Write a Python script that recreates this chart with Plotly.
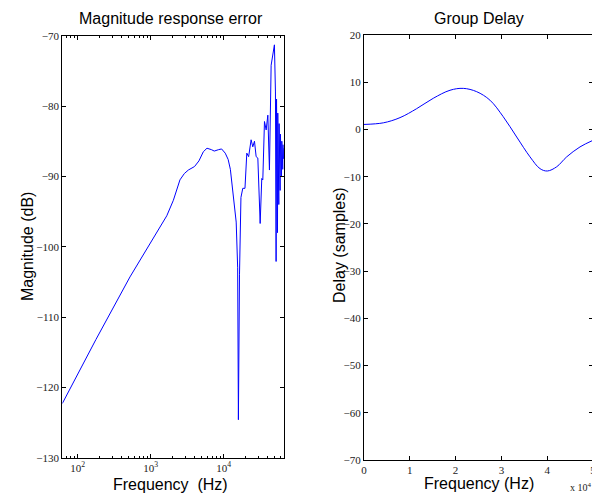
import numpy as np
import plotly.graph_objects as go

# page body has an 8px margin; size the figure to fill the rest of the 600x496 window
OFF = 8
W, H = 600 - OFF, 496 - OFF

# ---- Data: magnitude response error (left) ----
mag_log_freq = [1.79, 2.25, 2.716, 3.0, 3.127, 3.22, 3.31, 3.40, 3.46, 3.515, 3.6, 3.66,
                3.72, 3.77, 3.83, 3.87, 3.93, 3.97, 4.02, 4.06, 4.09, 4.13, 4.17, 4.19,
                4.20, 4.215, 4.235, 4.26, 4.29, 4.315, 4.34, 4.374, 4.397, 4.42, 4.443,
                4.466, 4.498, 4.52, 4.534, 4.557, 4.58, 4.603, 4.625, 4.648, 4.67, 4.685,
                4.693, 4.707, 4.716, 4.722, 4.727, 4.731, 4.735, 4.739, 4.744, 4.748,
                4.753, 4.757, 4.762, 4.766, 4.771, 4.775, 4.78, 4.785, 4.79, 4.794,
                4.799, 4.803, 4.808, 4.812, 4.817, 4.82]
mag_db = [-122.3, -113.2, -104.3, -99.3, -97.2, -95.6, -93.4, -90.5, -89.6, -89.1, -88.6, -87.8,
          -86.5, -86.0, -86.2, -86.4, -86.2, -86.1, -86.7, -87.6, -89.0, -92.4, -96.5, -103.0,
          -124.6, -104.0, -93.0, -91.7, -91.7, -86.7, -87.2, -84.8, -85.8, -85.0, -87.2,
          -87.4, -96.7, -90.3, -90.5, -82.2, -83.4, -81.3, -89.1, -74.2, -72.7, -72.3,
          -71.3, -78.0, -102.1, -79.0, -95.0, -80.0, -98.0, -81.0, -93.0, -82.0,
          -94.0, -82.5, -91.0, -83.0, -92.0, -84.0, -89.0, -84.0, -90.0, -85.0,
          -88.0, -85.0, -89.0, -85.5, -87.5, -86.0]
mag_freq = [10 ** v for v in mag_log_freq]

# ---- Data: group delay (right) ----
gd_freq = [0, 4215, 7860, 11500, 15130, 18780, 21680, 24600, 27500, 30400, 33340,
           36240, 38430, 40030, 42080, 44260, 47160, 50000]
gd_delay = [1.06, 1.4, 2.5, 4.4, 6.6, 8.3, 8.7, 8.0, 6.2, 2.7, -1.6,
            -5.8, -8.3, -8.8, -7.9, -5.8, -3.7, -2.3]

mag_yticks = [-130, -120, -110, -100, -90, -80, -70]
gd_yticks = [-70, -60, -50, -40, -30, -20, -10, 0, 10, 20]
log_xticks = [100, 1000, 10000]
log_xtext = ["10<sup>2</sup>", "10<sup>3</sup>", "10<sup>4</sup>"]
log_minor = [m * d for d in (10, 100, 1000, 10000) for m in range(2, 10)]
lin_xticks = [0, 10000, 20000, 30000, 40000, 50000]
lin_xtext = ["0", "1", "2", "3", "4", "5"]


def px(x):
    return (x - OFF) / W


def py(y):
    return 1 - (y - OFF) / H


fig = go.Figure()
fig.add_trace(go.Scatter(x=mag_freq, y=mag_db, mode="lines",
                         line=dict(color="#0000ff", width=1), xaxis="x", yaxis="y",
                         showlegend=False))
fig.add_trace(go.Scatter(x=gd_freq, y=gd_delay, mode="lines",
                         line=dict(color="#0000ff", width=1, shape="spline", smoothing=1.0),
                         xaxis="x2", yaxis="y2", showlegend=False))

tickfont = dict(family="Liberation Serif, Times New Roman, serif", size=11, color="#222")
axis_common = dict(showline=True, linecolor="black", linewidth=1.2, mirror="allticks",
                   ticks="inside", ticklen=4, tickcolor="black", showgrid=False,
                   zeroline=False, tickfont=tickfont, automargin=False)

fig.update_layout(
    template="none",
    width=W, height=H,
    margin=dict(l=0, r=0, t=0, b=0, pad=0),
    paper_bgcolor="white", plot_bgcolor="white",
    xaxis=dict(domain=[px(62.3), px(283.7)], type="log", range=[1.79, 4.82],
               tickvals=log_xticks, ticktext=log_xtext, anchor="y",
               minor=dict(tickvals=log_minor, ticks="inside", ticklen=2,
                          tickcolor="black", showgrid=False),
               **axis_common),
    yaxis=dict(domain=[py(457.7), py(35.7)], range=[-130, -70], tickvals=mag_yticks,
               anchor="x", **axis_common),
    xaxis2=dict(domain=[px(364), px(593)], range=[0, 50000], tickvals=lin_xticks,
                ticktext=lin_xtext, anchor="y2", **axis_common),
    yaxis2=dict(domain=[py(460), py(35)], range=[-70, 20], tickvals=gd_yticks,
                anchor="x2", **axis_common),
)

sans = "Liberation Sans, Arial, Helvetica, sans-serif"
ann = [
    dict(text="Magnitude response error", x=px(171), y=py(8), size=16, angle=0, ya="top"),
    dict(text="Group Delay", x=px(478.5), y=py(8), size=16, angle=0, ya="top"),
    dict(text="Frequency  (Hz)", x=px(170), y=py(484), size=16, angle=0, ya="middle"),
    dict(text="Frequency (Hz)", x=px(478.5), y=py(483), size=16, angle=0, ya="middle"),
    dict(text="Magnitude (dB)", x=px(27), y=py(247), size=16, angle=-90, ya="middle"),
    dict(text="Delay (samples)", x=px(340), y=py(245), size=16, angle=-90, ya="middle"),
]
for a in ann:
    fig.add_annotation(text=a["text"], x=a["x"], y=a["y"], xref="paper", yref="paper",
                       showarrow=False, textangle=a["angle"], xanchor="center", yanchor=a["ya"],
                       font=dict(family=sans, size=a["size"], color="black"))
fig.add_annotation(text="x 10<sup>4</sup>", x=px(581), y=py(487), xref="paper", yref="paper",
                   showarrow=False, xanchor="center", yanchor="middle",
                   font=dict(family="Liberation Serif, Times New Roman, serif", size=10, color="#222"))

fig.write_html("out.html")
